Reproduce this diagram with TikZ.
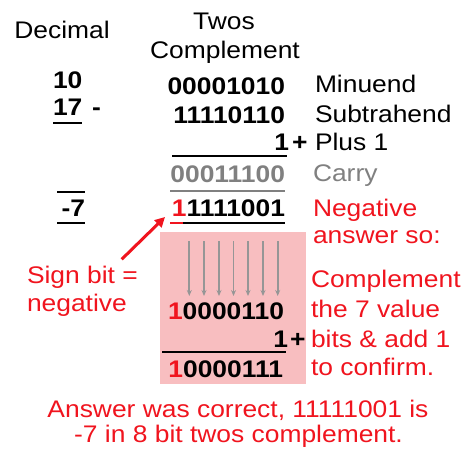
\documentclass[tikz,border=0pt]{standalone}
\usepackage{fontspec}
\setmainfont[FakeStretch=1.1]{Liberation Sans}
\usetikzlibrary{arrows.meta}
\definecolor{myred}{RGB}{240,20,30}
\definecolor{mygray}{RGB}{128,128,128}
\definecolor{arrgray}{RGB}{150,150,150}
\definecolor{mypink}{RGB}{248,190,192}
\tikzset{
  txt/.style={inner sep=0pt, outer sep=0pt, font=\fontsize{24}{28}\selectfont},
  num/.style={txt, font=\fontsize{24}{28}\selectfont\bfseries},
  lbl/.style={txt, anchor=base west},
  bin/.style={num, anchor=base east},
  rule/.style={line width=2pt},
  bitarrow/.style={arrgray, line width=1.8pt, -{Stealth[length=6pt,width=5pt]}},
}
\begin{document}
\begin{tikzpicture}[x=1pt,y=-1pt]
\useasboundingbox (0,0) rectangle (473,452);
% headers
\node[txt, anchor=base] (hdec) at (62,38) {Decimal};
\node[txt, anchor=base] (htwos) at (224,30) {Twos};
\node[txt, anchor=base] (hcomp) at (225,58) {Complement};
% decimal column
\node[num, anchor=base west] (d10) at (53,88) {10};
\node[num, anchor=base west] (d17) at (53,115) {17};
\node[num, anchor=base west] (dminus) at (92,115) {-};
\draw[rule] (53,123) -- (82,123);
\draw[rule] (57,192) -- (85,192);
\node[num, anchor=base east] (dres) at (85,216) {-7};
\draw[rule] (57,223) -- (85,223);
% binary column
\node[bin] (b1) at (285,94) {00001010};
\node[bin] (b2) at (285,123) {11110110};
\node[bin] (b3) at (289,150) {1};
\node[num, anchor=base west] (bplus) at (292,150) {+};
\draw[rule] (172,156) -- (287,156);
\node[bin, mygray] (bcarry) at (285,182) {00011100};
\draw[rule, mygray] (170,191) -- (285,191);
\node[bin] (bres) at (285,216.5) {\textcolor{myred}{1}1111001};
\draw[rule, myred] (170,223) -- (183,223);
\draw[rule] (183,223) -- (285,223);
% labels
\node[lbl] (lmin) at (315,92) {Minuend};
\node[lbl] (lsub) at (315,122) {Subtrahend};
\node[lbl] (lplus) at (315,150) {Plus 1};
\node[lbl, mygray] (lcarry) at (313,181) {Carry};
\node[lbl, myred] (lneg1) at (313,216) {Negative};
\node[lbl, myred] (lneg2) at (313,243) {answer so:};
\node[lbl, myred] (lc1) at (311,287) {Complement};
\node[lbl, myred] (lc2) at (311,317) {the 7 value};
\node[lbl, myred] (lc3) at (311,347) {bits \& add 1};
\node[lbl, myred] (lc4) at (311,375) {to confirm.};
% pink box
\fill[mypink] (160,232) rectangle (306,384);
\foreach \i/\x in {1/189.3,2/204,3/219,4/233.5,5/248,6/263,7/277.7}{
  \coordinate (at\i) at (\x,241);
  \coordinate (ab\i) at (\x,296);
  \draw[bitarrow] (at\i) -- (ab\i);
}
\node[bin] (c1) at (284,319) {\textcolor{myred}{1}0000110};
\node[bin] (c2) at (288,347) {1};
\node[num, anchor=base west] (cplus) at (290,347) {+};
\draw[rule] (162,352) -- (286,352);
\node[bin] (c3) at (283,377) {\textcolor{myred}{1}0000111};
% sign bit
\node[lbl, myred] (sb1) at (27,283) {Sign bit =};
\node[lbl, myred] (sb2) at (27,311) {negative};
\coordinate (sbstart) at (121.7,259.3);
\coordinate (sbtip) at (165,217);
\draw[myred, line width=3pt, -{Triangle[length=10pt,width=10pt]}] (sbstart) -- (sbtip);
% bottom text
\node[txt, myred, anchor=base] (bot1) at (238,417) {Answer was correct, 11111001 is};
\node[txt, myred, anchor=base] (bot2) at (238.5,442) {-7 in 8 bit twos complement.};
\end{tikzpicture}
\end{document}
